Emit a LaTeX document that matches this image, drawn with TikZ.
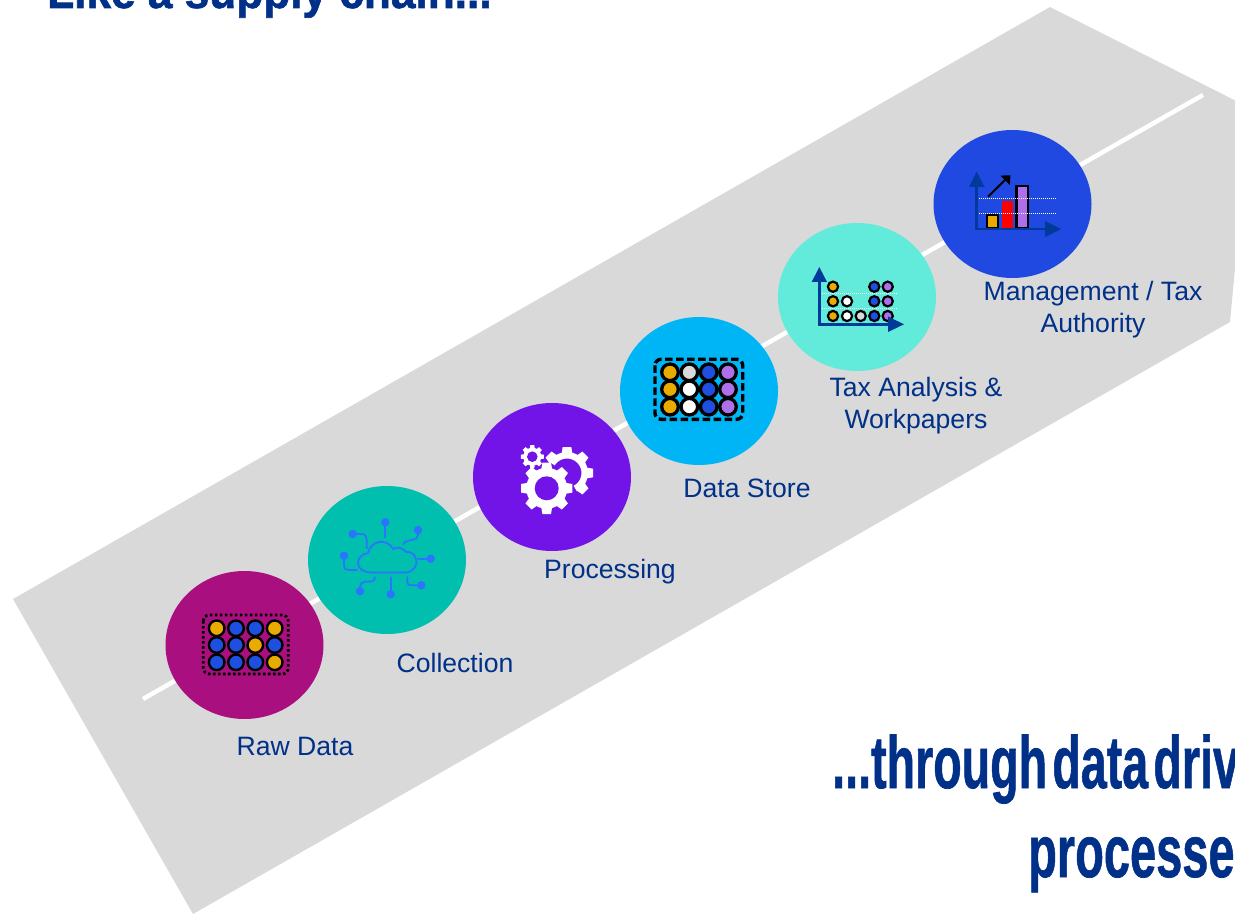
\documentclass[tikz,border=0pt]{standalone}
\usepackage{fontspec}
\usetikzlibrary{shapes.geometric,arrows.meta}
\setmainfont{Liberation Sans}
\newfontfamily\heavyfont[FakeBold=1.0,WordSpace=0.4]{Liberation Sans Bold}
\newfontfamily\titlefont[FakeBold=1.4]{Liberation Sans Bold}
\definecolor{navy}{HTML}{003087}
\definecolor{axisblue}{HTML}{003A9B}
\definecolor{road}{HTML}{D9D9D9}
\definecolor{gold}{HTML}{EAAB00}
\definecolor{dotblue}{HTML}{1F4FE0}
\definecolor{lilac}{HTML}{AD6FEA}
\definecolor{cloudblue}{HTML}{2A74FF}
\definecolor{cRaw}{HTML}{A90F7E}
\definecolor{cCol}{HTML}{00BFAE}
\definecolor{cPro}{HTML}{7214E8}
\definecolor{cSto}{HTML}{00B5F5}
\definecolor{cTax}{HTML}{62EBDB}
\definecolor{cMan}{HTML}{1F49E0}
\tikzset{
  stage/.style={ellipse,draw=none,inner sep=0pt,minimum width=158pt,minimum height=148pt},
  lbl/.style={text=navy,font=\fontsize{26.6}{32}\selectfont,align=center,inner sep=0pt,anchor=center},
  head/.style={text=navy,inner sep=0pt,anchor=base west},
  dotA/.style={draw=black,line width=2.4pt,radius=7.8pt},
  dotB/.style={draw=black,line width=2.2pt,radius=5.1pt},
  axisline/.style={draw=axisblue,line width=2.5pt},
  axishead/.style={fill=axisblue},
  grid/.style={draw=white,line width=1pt,dash pattern=on 1pt off 1pt},
  lead/.style={draw=cloudblue,line width=1.7pt,line cap=round},
  leaddot/.style={fill=cloudblue,radius=4.2pt}
}
\newcommand{\geartooth}[4]{% cx cy radius angle
  \fill[white,shift={(#1,#2)},rotate=#4] (#3-7,-5.5) -- (#3,-4.3) -- (#3,4.3) -- (#3-7,5.5) -- cycle;}
\begin{document}
\begin{tikzpicture}[x=1pt,y=-1pt]
\useasboundingbox (0,0) rectangle (1235,917);
\clip (0,0) rectangle (1235,917);
% road
\fill[road] (13,599) -- (1050,7) -- (1250,108) -- (1230,322) -- (193,914) -- cycle;
\coordinate (roadstart) at (143,699);
\coordinate (roadend) at (1203,95);
\draw[white,line width=4.5pt] (roadstart) -- (roadend);
% stages
\node[stage,fill=cRaw] (raw) at (244.5,645) {};
\node[stage,fill=cCol] (col) at (387,560) {};
\node[stage,fill=cPro] (pro) at (552,477) {};
\node[stage,fill=cSto] (sto) at (699,391) {};
\node[stage,fill=cTax] (tax) at (857,297) {};
\node[stage,fill=cMan] (man) at (1012.5,204) {};
% labels
\node[lbl] (lraw) at (295,746) {Raw Data};
\node[lbl] (lcol) at (455,663) {Collection};
\node[lbl] (lpro) at (610,572) {Processing};
\node[lbl] (lsto) at (747,488) {Data Store};
\node[lbl] (ltax) at (916,406) {Tax Analysis \&\\Workpapers};
\node[lbl] (lman) at (1093,310) {Management / Tax\\Authority};
% raw icon
\draw[black,line width=2.8pt,dash pattern=on 2.6pt off 2.4pt,rounded corners=6pt] (203.3,615) rectangle (288.3,674);
\foreach \x/\y/\c in {216.7/628.3/gold,236/628.3/dotblue,255.3/628.3/dotblue,274.7/628.3/gold,
  216.7/645/dotblue,236/645/dotblue,255.3/645/gold,274.7/645/dotblue,
  216.7/662.3/dotblue,236/662.3/dotblue,255.3/662.3/dotblue,274.7/662.3/gold}
  \fill[dotA,fill=\c] (\x,\y) circle[];
% cloud icon
\draw[lead] (371,572.5) -- (405,572.5) .. controls (413,572.5) and (417,566) .. (416.5,561)
  .. controls (416,555) and (411,551) .. (406,552) .. controls (403,548) and (397,546) .. (393,549)
  .. controls (391,544) and (384,541) .. (379,542) .. controls (373,543) and (369,548) .. (368,553)
  .. controls (362,554) and (358,558) .. (358,563) .. controls (358,569) and (364,572.5) .. (371,572.5) -- cycle;
\draw[lead] (385.3,522.3) -- (385.3,537.3);
\draw[lead] (352.7,534) -- (361.7,534) .. controls (365,534) and (366.7,536) .. (366.7,539) -- (366.7,548.3);
\draw[lead] (418,530) -- (418,535) .. controls (418,538) and (415,540) .. (412,540) -- (409,540.5) .. controls (406,541) and (404,542) .. (403.5,544);
\draw[lead] (344,555.7) -- (344,566) .. controls (344,569) and (346,570) .. (349,570) -- (357,570);
\draw[lead] (430.7,558.7) -- (418.3,558.7);
\draw[lead] (421.3,585.3) -- (411,585.3) .. controls (408.5,585.3) and (407.3,584) .. (407.3,582) -- (407.3,577.3);
\draw[lead] (390.7,594.3) -- (390.7,577.3);
\draw[lead] (360,591.3) -- (360,587) .. controls (360,584) and (362,582) .. (365,581.7) -- (371,581.5) .. controls (374,581) and (375,579.5) .. (375,577.3);
\foreach \x/\y in {385.3/522.3,352.7/534,418/530,344/555.7,430.7/558.7,421.3/585.3,390.7/594.3,360/591.3}
  \fill[leaddot] (\x,\y) circle[];
% gears icon
\foreach \a in {0,45,...,315} {\geartooth{546.7}{488.3}{25.7}{\a}}
\fill[white] (546.7,488.3) circle[radius=20.5pt];
\fill[cPro] (546.7,488.3) circle[radius=12pt];
\foreach \a in {0,45,...,315} {\fill[white,shift={(532.3,456.7)},rotate=\a] (7,-2.6) -- (11.5,-2) -- (11.5,2) -- (7,2.6) -- cycle;}
\fill[white] (532.3,456.7) circle[radius=9pt];
\fill[cPro] (532.3,456.7) circle[radius=5.3pt];
\draw[white,line width=6.5pt] plot[domain=-148:62,samples=40] ({567+17.7*cos(\x)},{473+17.7*sin(\x)});
\foreach \a in {135,90,45,0,-45} {\geartooth{567}{473}{26}{\a}}
% store icon
\draw[black,line width=3.4pt,dash pattern=on 7.5pt off 3.5pt,rounded corners=6pt] (655,359.3) rectangle (742.7,419.3);
\foreach \x/\y/\c in {670/372.3/gold,689.3/372.3/road,708.7/372.3/dotblue,728/372.3/lilac,
  670/389.3/gold,689.3/389.3/white,708.7/389.3/dotblue,728/389.3/lilac,
  670/406.7/gold,689.3/406.7/white,708.7/406.7/dotblue,728/406.7/lilac}
  \fill[dotA,fill=\c,line width=3.3pt,radius=8.3pt] (\x,\y) circle[];
% tax icon
\foreach \x/\y/\c in {833/286.7/gold,874.3/286.7/dotblue,887.7/286.7/lilac,
  833/301.3/gold,847/301.3/white,874.3/301.3/dotblue,887.7/301.3/lilac,
  833/316/gold,847/316/white,860.7/316/road,874.3/316/dotblue,887.7/316/lilac}
  \fill[dotB,fill=\c] (\x,\y) circle[];
\draw[grid] (820,293.7) -- (898,293.7);
\draw[grid] (820,308.3) -- (898,308.3);
\draw[axisline] (819.3,277) -- (819.3,324.3) -- (892,324.3);
\fill[axishead] (819.3,267) -- (827,282) -- (811.7,282) -- cycle;
\fill[axishead] (904,324.3) -- (888,316.5) -- (888,332) -- cycle;
% management icon
\draw[black,fill=gold,line width=2.2pt] (987.3,215) rectangle (998.3,228);
\fill[red] (1002,201) rectangle (1013.3,228.5);
\draw[black,fill=lilac,line width=2.2pt] (1016.5,186) rectangle (1028,228);
\draw[grid] (977,198.3) -- (1056,198.3);
\draw[grid] (977,213.3) -- (1056,213.3);
\draw[axisline] (976.7,182) -- (976.7,229) -- (1048,229);
\fill[axishead] (976.7,171.7) -- (984.5,187) -- (969,187) -- cycle;
\fill[axishead] (1061,229) -- (1045,221) -- (1045,237) -- cycle;
\draw[black,line width=2pt] (988,196.7) -- (1006,179);
\fill[black] (1010.5,175.3) -- (1000.5,175.6) -- (1009.8,185) -- cycle;
% headings
\node[head] (h1) at (47,8) {\scalebox{0.94}[1]{\fontsize{47}{56}\titlefont Like a supply chain...}};
\node[head] (h2) at (832,788) {\scalebox{0.63}[1]{\fontsize{74}{80}\heavyfont ...through data driven}};
\node[head] (h3) at (1028,877) {\scalebox{0.635}[1]{\fontsize{74}{80}\heavyfont processes}};
\end{tikzpicture}
\end{document}
